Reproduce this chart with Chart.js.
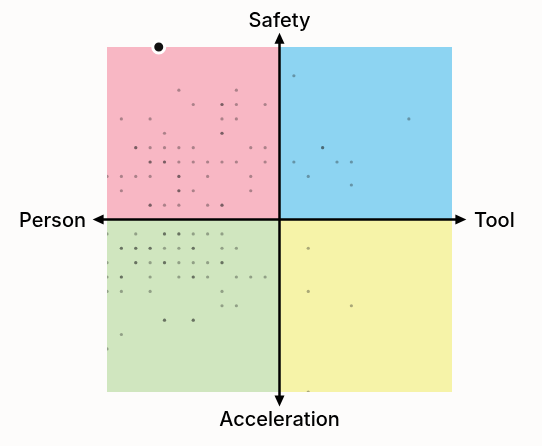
<!DOCTYPE html>
<html>
<head>
<meta charset="utf-8">
<script src="https://cdn.jsdelivr.net/npm/chart.js@4"></script>
<style>
    body { margin: 0; background: #fdfcfb; }
    #wrap { width: 542px; height: 446px; }
</style>
</head>
<body>
<div id="wrap"><canvas id="chart" width="542" height="446"></canvas></div>
<script>
// axis range and labels
const axisMin = -12;
const axisMax = 12;
const axisLabels = { top: 'Safety', bottom: 'Acceleration', left: 'Person', right: 'Tool' };
const quadrantColors = { tl: '#f8b7c4', tr: '#8dd4f2', bl: '#d0e6bf', br: '#f6f3a8' };

// responses, [x, y]; repeated entries are overlapping answers
const safetyPerson = [
    [-7, 9], [-3, 9],
    [-6, 8], [-4, 8], [-4, 8], [-3, 8], [-1, 8],
    [-11, 7], [-9, 7], [-4, 7], [-3, 7],
    [-8, 6], [-4, 6], [-4, 6],
    [-10, 5], [-10, 5], [-9, 5], [-8, 5], [-7, 5], [-6, 5], [-2, 5], [-1, 5],
    [-9, 4], [-9, 4], [-8, 4], [-8, 4], [-7, 4], [-6, 4], [-5, 4], [-4, 4], [-3, 4], [-1, 4],
    [-12, 3], [-11, 3], [-10, 3], [-9, 3], [-7, 3], [-7, 3], [-5, 3], [-2, 3],
    [-11, 2], [-7, 2], [-7, 2], [-6, 2], [-2, 2],
    [-9, 1], [-9, 1], [-8, 1], [-7, 1], [-5, 1], [-4, 1], [-4, 1]
];
const safetyTool = [
    [1, 10], [9, 7], [3, 5], [3, 5], [1, 4], [4, 4], [5, 4], [2, 3], [5, 2.4]
];
const accelPerson = [
    [-12, -1], [-10, -1], [-8, -1], [-8, -1], [-7, -1], [-7, -1], [-6, -1], [-5, -1], [-4, -1],
    [-11, -2], [-11, -2], [-10, -2], [-10, -2], [-9, -2], [-9, -2], [-8, -2], [-7, -2], [-6, -2], [-6, -2], [-4, -2], [-3, -2],
    [-12, -3], [-10, -3], [-10, -3], [-9, -3], [-8, -3], [-8, -3], [-7, -3], [-6, -3], [-5, -3], [-4, -3], [-4, -3],
    [-12, -4], [-11, -4], [-11, -4], [-9, -4], [-7, -4], [-6, -4], [-6, -4], [-5, -4], [-3, -4], [-2, -4], [-1, -4],
    [-12, -5], [-11, -5], [-9, -5], [-4, -5],
    [-4, -6], [-3, -6],
    [-8, -7], [-8, -7], [-6, -7], [-6, -7],
    [-11, -8],
    [-12, -9]
];
const accelTool = [
    [2, -2], [2, -5], [5, -6], [2, -12]
];
const highlight = [[-8.4, 12]];

const toPoints = arr => arr.map(p => ({ x: p[0], y: p[1] }));

const quadrantPlugin = {
    id: 'quadrants',
    beforeDatasetsDraw(chart) {
        const { ctx, chartArea: a, scales: { x, y } } = chart;
        const cx = x.getPixelForValue(0);
        const cy = y.getPixelForValue(0);
        ctx.save();
        ctx.fillStyle = quadrantColors.tl;
        ctx.fillRect(a.left, a.top, cx - a.left, cy - a.top);
        ctx.fillStyle = quadrantColors.tr;
        ctx.fillRect(cx, a.top, a.right - cx, cy - a.top);
        ctx.fillStyle = quadrantColors.bl;
        ctx.fillRect(a.left, cy, cx - a.left, a.bottom - cy);
        ctx.fillStyle = quadrantColors.br;
        ctx.fillRect(cx, cy, a.right - cx, a.bottom - cy);

        // axes with arrow heads, one unit beyond the range
        const x0 = x.getPixelForValue(axisMin - 1), x1 = x.getPixelForValue(axisMax + 1);
        const y0 = y.getPixelForValue(axisMax + 1), y1 = y.getPixelForValue(axisMin - 1);
        ctx.strokeStyle = '#000';
        ctx.fillStyle = '#000';
        ctx.lineWidth = 2.5;
        ctx.beginPath();
        ctx.moveTo(x0 + 6, cy); ctx.lineTo(x1 - 6, cy);
        ctx.moveTo(cx, y0 + 6); ctx.lineTo(cx, y1 - 6);
        ctx.stroke();
        const head = (tx, ty, dx, dy) => {
            ctx.beginPath();
            ctx.moveTo(tx, ty);
            ctx.lineTo(tx - dx * 11 - dy * 5, ty - dy * 11 - dx * 5);
            ctx.lineTo(tx - dx * 11 + dy * 5, ty - dy * 11 + dx * 5);
            ctx.closePath();
            ctx.fill();
        };
        head(x0, cy, -1, 0);
        head(x1, cy, 1, 0);
        head(cx, y0, 0, -1);
        head(cx, y1, 0, 1);

        ctx.font = '500 20px Inter';
        ctx.textBaseline = 'alphabetic';
        ctx.textAlign = 'center';
        ctx.fillText(axisLabels.top, cx, a.top - 20);
        ctx.fillText(axisLabels.bottom, cx, a.bottom + 34);
        ctx.textAlign = 'right';
        ctx.fillText(axisLabels.left, a.left - 21, cy + 7);
        ctx.textAlign = 'left';
        ctx.fillText(axisLabels.right, a.right + 22, cy + 7);
        ctx.restore();
    }
};

const dotStyle = {
    pointRadius: 1.6,
    pointBackgroundColor: 'rgba(30,30,30,0.35)',
    pointBorderWidth: 0,
    pointHoverRadius: 1.6
};

new Chart(document.getElementById('chart'), {
    type: 'scatter',
    data: {
        datasets: [
            { data: toPoints(safetyPerson), ...dotStyle },
            { data: toPoints(safetyTool), ...dotStyle },
            { data: toPoints(accelPerson), ...dotStyle },
            { data: toPoints(accelTool), ...dotStyle },
            {
                data: toPoints(highlight),
                pointRadius: 6,
                pointBackgroundColor: '#111',
                pointBorderColor: '#fff',
                pointBorderWidth: 3,
                clip: false
            }
        ]
    },
    options: {
        responsive: false,
        animation: false,
        events: [],
        layout: {
            autoPadding: false,
            padding: { left: 107, right: 90, top: 47, bottom: 54 }
        },
        plugins: {
            legend: { display: false },
            tooltip: { enabled: false }
        },
        scales: {
            x: { type: 'linear', min: axisMin, max: axisMax, display: false },
            y: { type: 'linear', min: axisMin, max: axisMax, display: false }
        }
    },
    plugins: [quadrantPlugin]
});
</script>
</body>
</html>
